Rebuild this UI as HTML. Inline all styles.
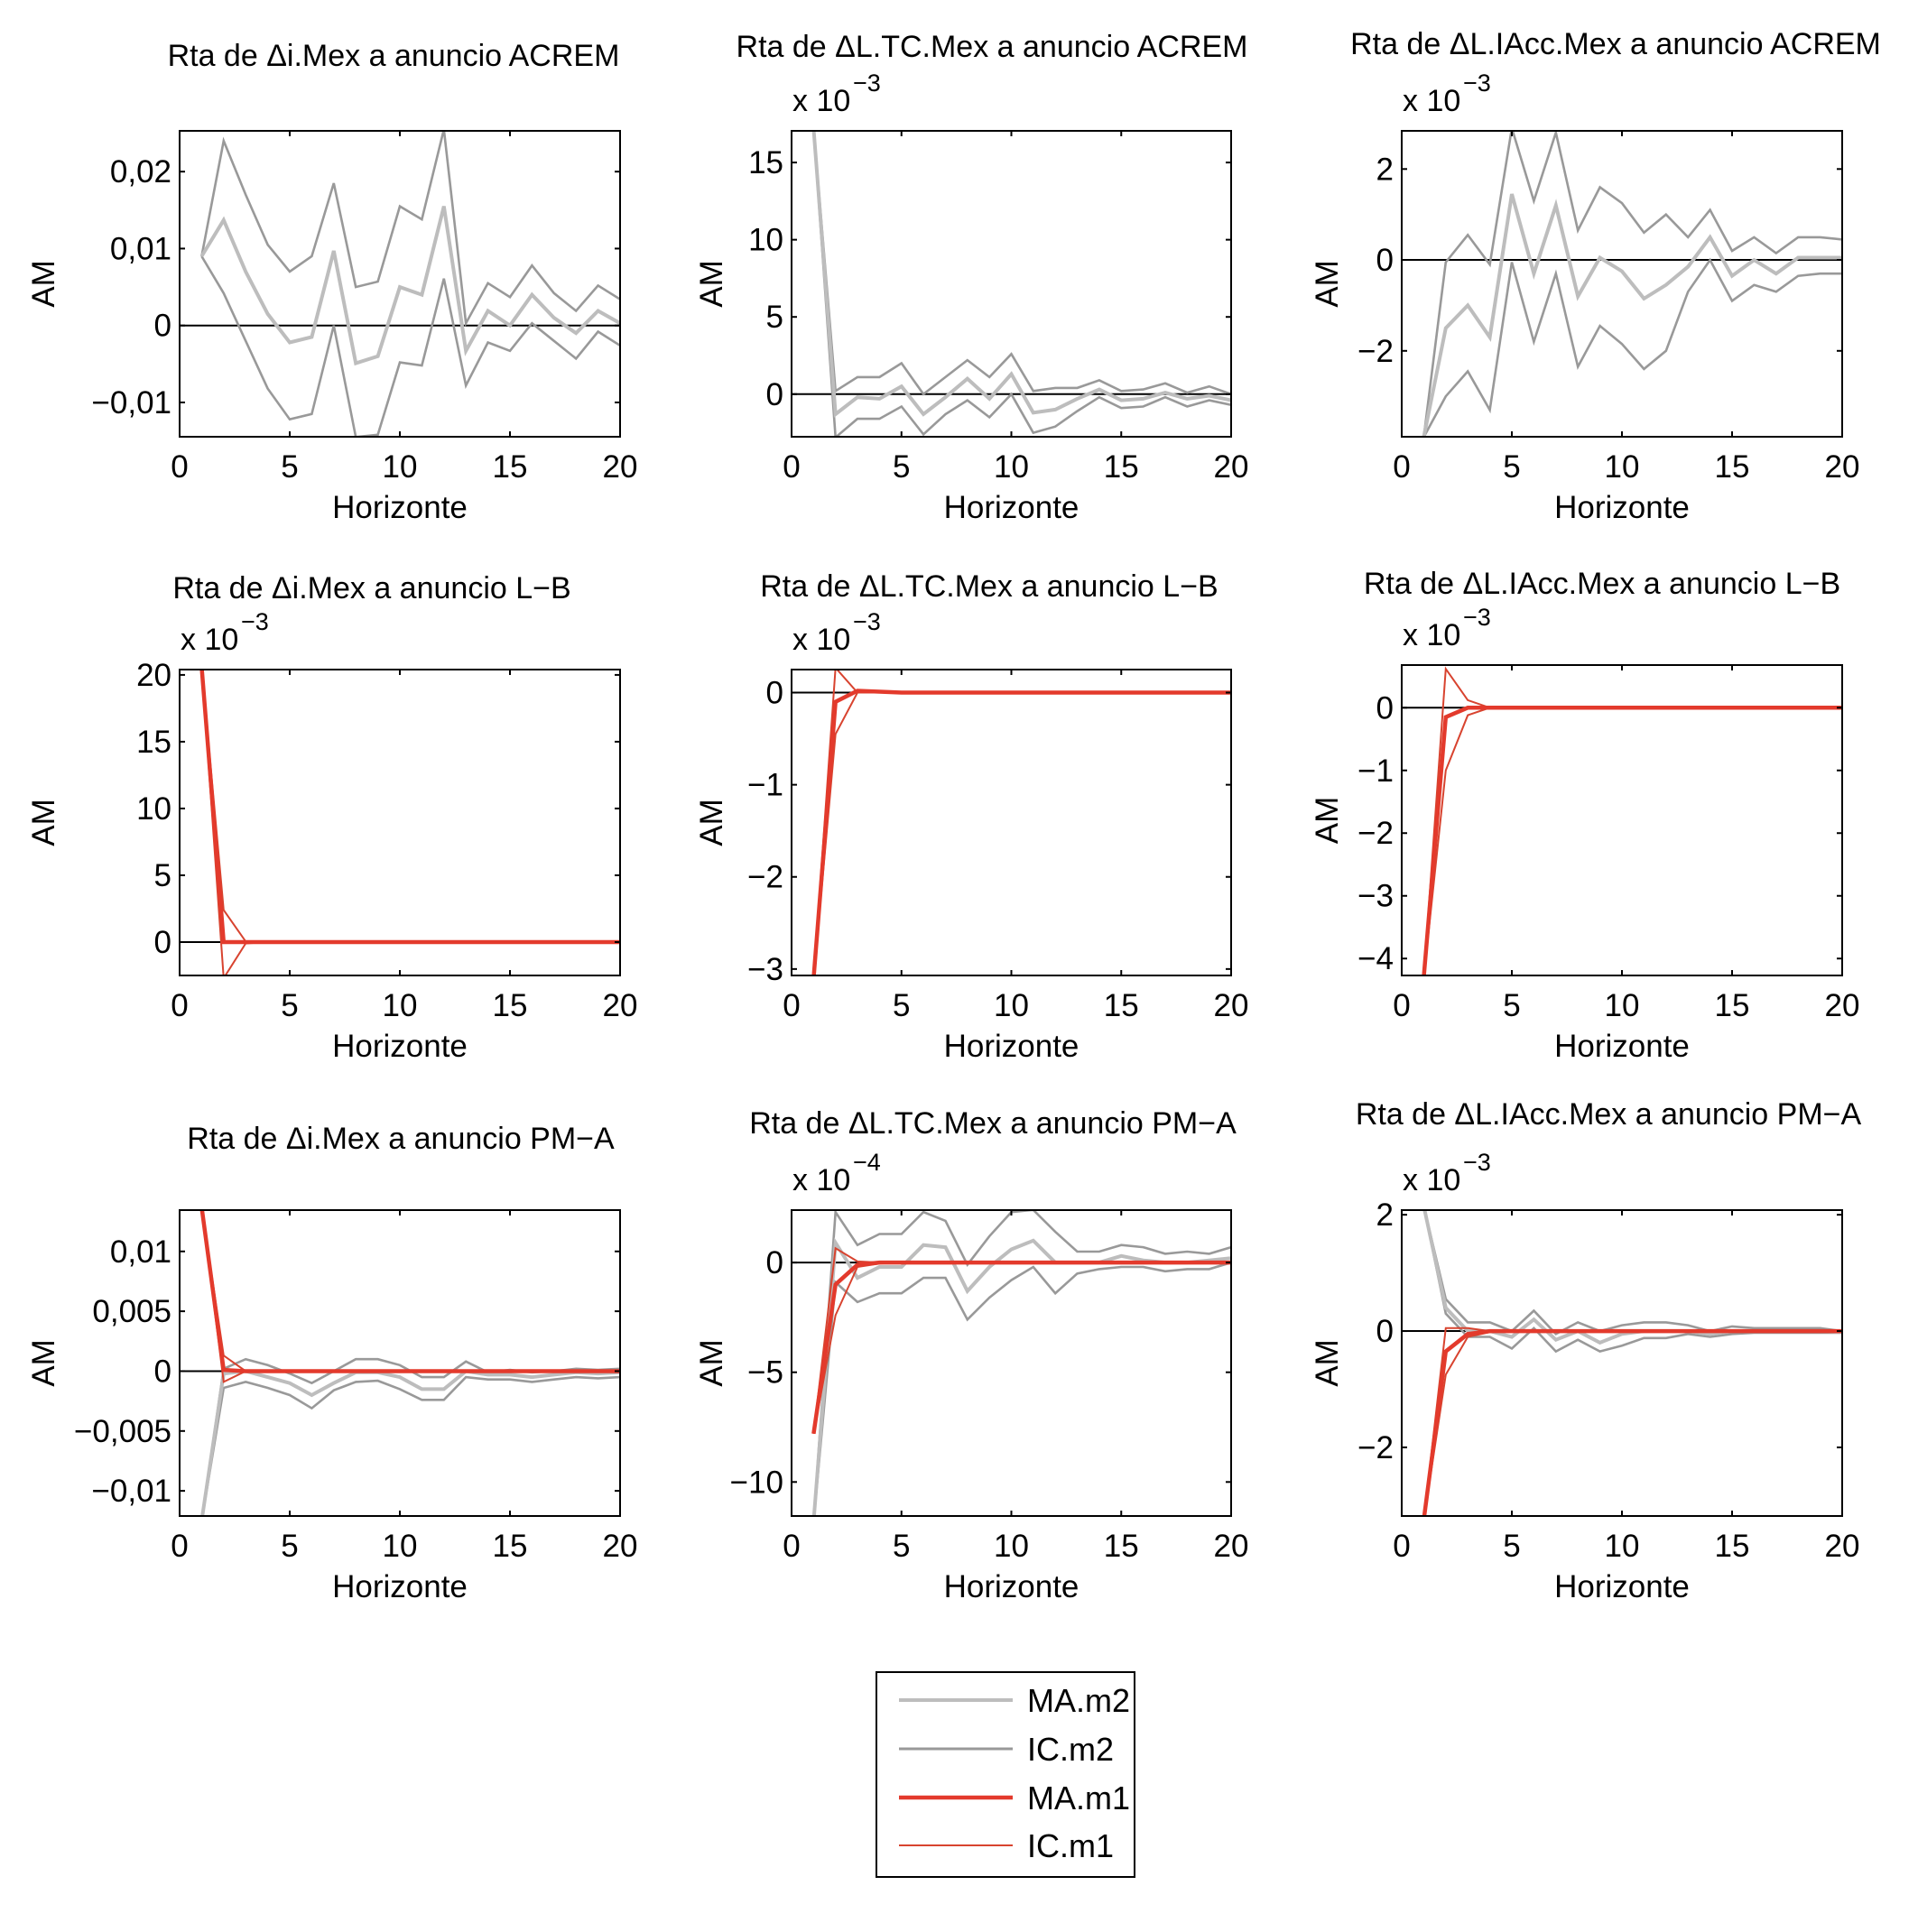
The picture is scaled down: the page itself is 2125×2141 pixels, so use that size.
<!DOCTYPE html>
<html><head><meta charset="utf-8"><style>
html,body{margin:0;padding:0;background:#fff;}
svg{display:block;}
text{font-family:"Liberation Sans",Arial,sans-serif;fill:#000;}
</style></head><body>
<svg id="fig" width="2125" height="2141" viewBox="0 0 2125 2141" xmlns="http://www.w3.org/2000/svg">
<rect x="0" y="0" width="2125" height="2141" fill="#fff"/>
<g id="legend">
<rect x="971" y="1853" width="286" height="227" fill="#fff" stroke="#000" stroke-width="2"/>
<g><line x1="996" y1="1884" x2="1122" y2="1884" stroke="#bdbdbd" stroke-width="4"/><text x="1138" y="1897" font-size="36">MA.m2</text></g>
<g><line x1="996" y1="1938" x2="1122" y2="1938" stroke="#999" stroke-width="3"/><text x="1138" y="1951" font-size="36">IC.m2</text></g>
<g><line x1="996" y1="1992" x2="1122" y2="1992" stroke="#e33a2c" stroke-width="4.5"/><text x="1138" y="2005" font-size="36">MA.m1</text></g>
<g><line x1="996" y1="2045" x2="1122" y2="2045" stroke="#d8432f" stroke-width="2"/><text x="1138" y="2058" font-size="36">IC.m1</text></g>
</g>
</svg>
<script>
const horizons = [1,2,3,4,5,6,7,8,9,10,11,12,13,14,15,16,17,18,19,20];
const xTicks = [0,5,10,15,20];
// Panel 1
const p1_ma2 = [0.009,0.0137,0.007,0.0015,-0.0022,-0.0015,0.0097,-0.0049,-0.004,0.005,0.004,0.0155,-0.0033,0.0019,0.0,0.004,0.001,-0.001,0.0019,0.0003];
const p1_ic2_up = [0.009,0.024,0.017,0.0105,0.007,0.009,0.0185,0.005,0.0057,0.0155,0.0138,0.0255,0.0003,0.0055,0.0037,0.0078,0.0042,0.0019,0.0052,0.0034];
const p1_ic2_lo = [0.009,0.0042,-0.002,-0.0082,-0.0122,-0.0115,0.0,-0.0145,-0.0142,-0.0048,-0.0052,0.0061,-0.0078,-0.0022,-0.0033,0.0003,-0.002,-0.0043,-0.0008,-0.0026];
const p1_yticks = [-0.01,0,0.01,0.02];
const p1_ylabels = ["\u22120,01","0","0,01","0,02"];
// Panel 2
const p2_ma2 = [17.2,-1.3,-0.2,-0.3,0.5,-1.3,-0.2,1.0,-0.3,1.3,-1.2,-1.0,-0.3,0.3,-0.4,-0.3,0.1,-0.3,-0.1,-0.4];
const p2_ic2_up = [17.2,0.2,1.1,1.1,2.0,0.0,1.1,2.2,1.1,2.6,0.2,0.4,0.4,0.9,0.2,0.3,0.7,0.1,0.5,0.0];
const p2_ic2_lo = [17.2,-2.8,-1.6,-1.6,-0.8,-2.6,-1.3,-0.4,-1.5,0.0,-2.5,-2.1,-1.1,-0.2,-0.9,-0.8,-0.2,-0.8,-0.4,-0.7];
const p2_yticks = [0,5,10,15];
const p2_ylabels = ["0","5","10","15"];
// Panel 3
const p3_ma2 = [-3.9,-1.5,-1.0,-1.7,1.45,-0.3,1.2,-0.8,0.05,-0.25,-0.85,-0.55,-0.15,0.5,-0.35,0.0,-0.3,0.05,0.05,0.05];
const p3_ic2_up = [-3.9,-0.05,0.55,-0.1,2.9,1.3,2.8,0.65,1.6,1.25,0.6,1.0,0.5,1.1,0.2,0.5,0.15,0.5,0.5,0.45];
const p3_ic2_lo = [-3.9,-3.0,-2.45,-3.3,-0.05,-1.8,-0.3,-2.35,-1.45,-1.85,-2.4,-2.0,-0.7,0.0,-0.9,-0.55,-0.7,-0.35,-0.3,-0.3];
const p3_yticks = [-2,0,2];
const p3_ylabels = ["\u22122","0","2"];
// Panel 4
const p4_ma1 = [20.6,0.0,0.0,0,0,0,0,0,0,0,0,0,0,0,0,0,0,0,0,0];
const p4_ic1_up = [20.6,2.4,0.05,0,0,0,0,0,0,0,0,0,0,0,0,0,0,0,0,0];
const p4_ic1_lo = [20.6,-2.7,-0.1,0,0,0,0,0,0,0,0,0,0,0,0,0,0,0,0,0];
const p4_yticks = [0,5,10,15,20];
const p4_ylabels = ["0","5","10","15","20"];
// Panel 5
const p5_ma1 = [-3.1,-0.1,0.02,0.01,0,0,0,0,0,0,0,0,0,0,0,0,0,0,0,0];
const p5_ic1_up = [-3.1,0.27,0.0,0,0,0,0,0,0,0,0,0,0,0,0,0,0,0,0,0];
const p5_ic1_lo = [-3.1,-0.45,0.0,0,0,0,0,0,0,0,0,0,0,0,0,0,0,0,0,0];
const p5_yticks = [-3,-2,-1,0];
const p5_ylabels = ["\u22123","\u22122","\u22121","0"];
// Panel 6
const p6_ma1 = [-4.3,-0.15,0.0,0,0,0,0,0,0,0,0,0,0,0,0,0,0,0,0,0];
const p6_ic1_up = [-4.3,0.62,0.12,0,0,0,0,0,0,0,0,0,0,0,0,0,0,0,0,0];
const p6_ic1_lo = [-4.3,-1.0,-0.12,0,0,0,0,0,0,0,0,0,0,0,0,0,0,0,0,0];
const p6_yticks = [-4,-3,-2,-1,0];
const p6_ylabels = ["\u22124","\u22123","\u22122","\u22121","0"];
// Panel 7
const p7_ma2 = [-0.0125,-0.0002,0.0,-0.0005,-0.001,-0.002,-0.001,-0.0001,-0.0001,-0.0005,-0.0015,-0.0015,0.0,-0.0003,-0.0003,-0.0005,-0.0003,-0.0001,-0.0002,-0.0001];
const p7_ic2_up = [-0.0125,0.0002,0.001,0.0005,-0.0002,-0.001,0.0,0.001,0.001,0.0005,-0.0005,-0.0005,0.0008,-0.0001,0.0001,-0.0001,0.0,0.0002,0.0001,0.0002];
const p7_ic2_lo = [-0.0125,-0.0014,-0.0009,-0.0014,-0.002,-0.0031,-0.0016,-0.0009,-0.0008,-0.0015,-0.0024,-0.0024,-0.0005,-0.0007,-0.0007,-0.0009,-0.0007,-0.0005,-0.0006,-0.0005];
const p7_ma1 = [0.0137,0.0001,0.0,0,0,0,0,0,0,0,0,0,0,0,0,0,0,0,0,0];
const p7_ic1_up = [0.0137,0.0013,0.0,0,0,0,0,0,0,0,0,0,0,0,0,0,0,0,0,0];
const p7_ic1_lo = [0.0137,-0.0009,0.0,0,0,0,0,0,0,0,0,0,0,0,0,0,0,0,0,0];
const p7_yticks = [-0.01,-0.005,0,0.005,0.01];
const p7_ylabels = ["\u22120,01","\u22120,005","0","0,005","0,01"];
// Panel 8
const p8_ma2 = [-11.8,0.9,-0.7,-0.2,-0.2,0.8,0.7,-1.3,-0.2,0.6,1.0,0.0,0.0,0.0,0.3,0.1,0.0,0.0,0.1,0.2];
const p8_ic2_up = [-11.8,2.3,0.8,1.3,1.3,2.3,1.9,-0.1,1.2,2.3,2.4,1.4,0.5,0.5,0.8,0.7,0.4,0.5,0.4,0.7];
const p8_ic2_lo = [-11.8,-0.9,-1.8,-1.4,-1.4,-0.7,-0.7,-2.6,-1.6,-0.8,-0.2,-1.4,-0.5,-0.3,-0.2,-0.2,-0.4,-0.3,-0.3,0.0];
const p8_ma1 = [-7.8,-1.0,-0.1,0,0,0,0,0,0,0,0,0,0,0,0,0,0,0,0,0];
const p8_ic1_up = [-7.8,0.65,0.05,0,0,0,0,0,0,0,0,0,0,0,0,0,0,0,0,0];
const p8_ic1_lo = [-7.8,-2.4,-0.2,-0.05,0,0,0,0,0,0,0,0,0,0,0,0,0,0,0,0];
const p8_yticks = [-10,-5,0];
const p8_ylabels = ["\u221210","\u22125","0"];
// Panel 9
const p9_ma2 = [2.15,0.4,0.0,0.0,-0.1,0.2,-0.15,0.0,-0.2,-0.05,0.0,0.0,0.0,-0.05,0.0,0.0,0.0,0.0,0.0,-0.02];
const p9_ic2_up = [2.15,0.55,0.15,0.15,0.0,0.35,-0.05,0.15,0.0,0.1,0.15,0.15,0.1,0.0,0.08,0.05,0.05,0.05,0.05,0.0];
const p9_ic2_lo = [2.15,0.3,-0.1,-0.1,-0.3,0.05,-0.35,-0.15,-0.35,-0.25,-0.12,-0.12,-0.05,-0.1,-0.05,-0.03,-0.03,-0.03,-0.03,-0.03];
const p9_ma1 = [-3.25,-0.35,-0.05,0,0,0,0,0,0,0,0,0,0,0,0,0,0,0,0,0];
const p9_ic1_up = [-3.25,0.05,0.05,0,0,0,0,0,0,0,0,0,0,0,0,0,0,0,0,0];
const p9_ic1_lo = [-3.25,-0.75,-0.1,-0.02,0,0,0,0,0,0,0,0,0,0,0,0,0,0,0,0];
const p9_yticks = [-2,0,2];
const p9_ylabels = ["\u22122","0","2"];

const NS = "http://www.w3.org/2000/svg";
const fig = document.getElementById('fig');
function mk(tag, attrs, parent){
  const e = document.createElementNS(NS, tag);
  for (const k in attrs) e.setAttribute(k, attrs[k]);
  (parent||fig).appendChild(e);
  return e;
}
const panels = [
 {id:1,title:"Rta de \u0394i.Mex a anuncio ACREM",tx:436,ty:73,x0:199,x1:687,y0:145,y1:484,ymin:-0.01446,ymax:0.0253,yt:p1_yticks,yl:p1_ylabels,exp:null,ma2:p1_ma2,up2:p1_ic2_up,lo2:p1_ic2_lo},
 {id:2,title:"Rta de \u0394L.TC.Mex a anuncio ACREM",tx:1099,ty:63,x0:877,x1:1364,y0:145,y1:484,ymin:-2.76,ymax:17.05,yt:p2_yticks,yl:p2_ylabels,exp:"\u22123",ma2:p2_ma2,up2:p2_ic2_up,lo2:p2_ic2_lo},
 {id:3,title:"Rta de \u0394L.IAcc.Mex a anuncio ACREM",tx:1790,ty:60,x0:1553,x1:2041,y0:145,y1:484,ymin:-3.89,ymax:2.84,yt:p3_yticks,yl:p3_ylabels,exp:"\u22123",ma2:p3_ma2,up2:p3_ic2_up,lo2:p3_ic2_lo},
 {id:4,title:"Rta de \u0394i.Mex a anuncio L\u2212B",tx:412,ty:663,x0:199,x1:687,y0:742,y1:1081,ymin:-2.5,ymax:20.4,yt:p4_yticks,yl:p4_ylabels,exp:"\u22123",ma1:p4_ma1,up1:p4_ic1_up,lo1:p4_ic1_lo},
 {id:5,title:"Rta de \u0394L.TC.Mex a anuncio L\u2212B",tx:1096,ty:661,x0:877,x1:1364,y0:742,y1:1081,ymin:-3.07,ymax:0.25,yt:p5_yticks,yl:p5_ylabels,exp:"\u22123",ma1:p5_ma1,up1:p5_ic1_up,lo1:p5_ic1_lo},
 {id:6,title:"Rta de \u0394L.IAcc.Mex a anuncio L\u2212B",tx:1775,ty:658,x0:1553,x1:2041,y0:737,y1:1081,ymin:-4.27,ymax:0.68,yt:p6_yticks,yl:p6_ylabels,exp:"\u22123",ma1:p6_ma1,up1:p6_ic1_up,lo1:p6_ic1_lo},
 {id:7,title:"Rta de \u0394i.Mex a anuncio PM\u2212A",tx:444,ty:1273,x0:199,x1:687,y0:1341,y1:1680,ymin:-0.0121,ymax:0.01345,yt:p7_yticks,yl:p7_ylabels,exp:null,ma2:p7_ma2,up2:p7_ic2_up,lo2:p7_ic2_lo,ma1:p7_ma1,up1:p7_ic1_up,lo1:p7_ic1_lo},
 {id:8,title:"Rta de \u0394L.TC.Mex a anuncio PM\u2212A",tx:1100,ty:1256,x0:877,x1:1364,y0:1341,y1:1680,ymin:-11.55,ymax:2.39,yt:p8_yticks,yl:p8_ylabels,exp:"\u22124",ma2:p8_ma2,up2:p8_ic2_up,lo2:p8_ic2_lo,ma1:p8_ma1,up1:p8_ic1_up,lo1:p8_ic1_lo},
 {id:9,title:"Rta de \u0394L.IAcc.Mex a anuncio PM\u2212A",tx:1782,ty:1246,x0:1553,x1:2041,y0:1341,y1:1680,ymin:-3.18,ymax:2.08,yt:p9_yticks,yl:p9_ylabels,exp:"\u22123",ma2:p9_ma2,up2:p9_ic2_up,lo2:p9_ic2_lo,ma1:p9_ma1,up1:p9_ic1_up,lo1:p9_ic1_lo}
];
const defs = mk('defs', {});
panels.forEach(p => {
  const g = mk('g', {});
  
  
  const xs = v => p.x0 + (v - 0) / 20 * (p.x1 - p.x0);
  const ys = v => p.y1 - (v - p.ymin) / (p.ymax - p.ymin) * (p.y1 - p.y0);
  const cp = mk('clipPath', {id:'clip' + p.id}, defs);
  mk('rect', {x:p.x0, y:p.y0, width:p.x1 - p.x0, height:p.y1 - p.y0}, cp);
  const t = mk('text', {x:p.tx, y:p.ty, 'font-size':34, 'text-anchor':'middle'}, g);
  t.textContent = p.title;
  
  
  if (p.exp) {
    const e = mk('text', {x:p.x0 + 1, y:p.y0 - 22, 'font-size':34}, g);
    e.textContent = 'x 10';
    
    
    const e2 = mk('text', {x:p.x0 + 68, y:p.y0 - 44, 'font-size':27}, g);
    e2.textContent = p.exp;
    
    
  }
  const plot = mk('g', {'clip-path':'url(#clip' + p.id + ')'}, g);
  
  
  const zl = mk('line', {x1:p.x0, x2:p.x1, y1:ys(0), y2:ys(0), stroke:'#000', 'stroke-width':2}, plot);
  
  
  function series(arr, color, w, name) {
    const pts = arr.map((v, i) => xs(horizons[i]).toFixed(1) + ',' + ys(v).toFixed(1)).join(' ');
    const pl = mk('polyline', {points:pts, fill:'none', stroke:color, 'stroke-width':w, 'stroke-linejoin':'miter'}, plot);
    
    
  }
  if (p.up2) series(p.up2, '#999', 2.6, 'ic-m2-upper');
  if (p.lo2) series(p.lo2, '#999', 2.6, 'ic-m2-lower');
  if (p.ma2) series(p.ma2, '#bdbdbd', 4, 'ma-m2-line');
  if (p.up1) series(p.up1, '#d8432f', 2, 'ic-m1-upper');
  if (p.lo1) series(p.lo1, '#d8432f', 2, 'ic-m1-lower');
  if (p.ma1) series(p.ma1, '#e33a2c', 4.5, 'ma-m1-line');
  const fr = mk('rect', {x:p.x0, y:p.y0, width:p.x1 - p.x0, height:p.y1 - p.y0, fill:'none', stroke:'#000', 'stroke-width':2}, g);
  
  
  xTicks.forEach(v => {
    const x = xs(v);
    mk('line', {x1:x, x2:x, y1:p.y1, y2:p.y1 - 6, stroke:'#000', 'stroke-width':2}, g);
    mk('line', {x1:x, x2:x, y1:p.y0, y2:p.y0 + 6, stroke:'#000', 'stroke-width':2}, g);
    const tl = mk('text', {x:x, y:p.y1 + 45, 'font-size':35, 'text-anchor':'middle'}, g);
    tl.textContent = String(v);
    
    
  });
  p.yt.forEach((v, i) => {
    const y = ys(v);
    mk('line', {x1:p.x0, x2:p.x0 + 6, y1:y, y2:y, stroke:'#000', 'stroke-width':2}, g);
    mk('line', {x1:p.x1, x2:p.x1 - 6, y1:y, y2:y, stroke:'#000', 'stroke-width':2}, g);
    const tl = mk('text', {x:p.x0 - 9, y:y + 12, 'font-size':35, 'text-anchor':'end'}, g);
    tl.textContent = p.yl[i];
    
    
  });
  const xt = mk('text', {x:(p.x0 + p.x1) / 2, y:p.y1 + 90, 'font-size':35, 'text-anchor':'middle'}, g);
  xt.textContent = 'Horizonte';
  
  
  const axx = p.x0 - (p.id % 3 === 1 ? 139 : (p.id % 3 === 2 ? 77 : 71));
  const cy = (p.y0 + p.y1) / 2;
  const yt = mk('text', {x:axx, y:cy, 'font-size':35, 'text-anchor':'middle', transform:'rotate(-90 ' + axx + ' ' + cy + ')'}, g);
  yt.textContent = 'AM';
  
  
});
fig.appendChild(document.getElementById('legend'));
</script>
</body></html>
